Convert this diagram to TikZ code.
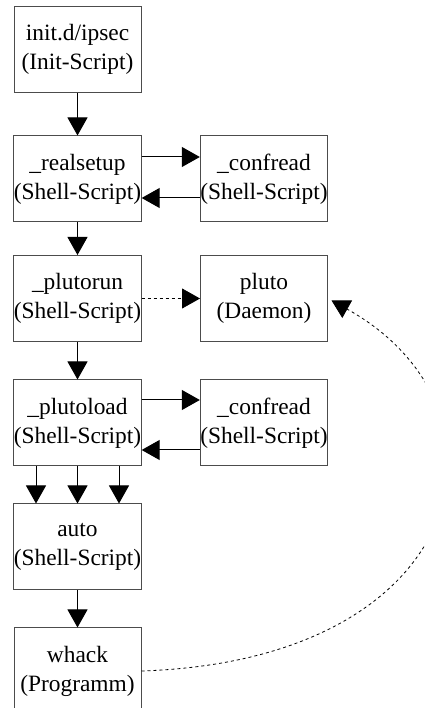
\documentclass[tikz,border=0pt]{standalone}
\usepackage{fontspec}
\setmainfont{Liberation Serif}
\usetikzlibrary{arrows.meta}

\begin{document}
\begin{tikzpicture}[
  x=0.5pt, y=0.5pt,
  scriptbox/.style={draw=black!70, line width=0.5pt, inner sep=0pt,
                    minimum width=63.5pt, minimum height=43pt, align=center,
                    font=\fontsize{11.7}{14.5}\selectfont},
  flow/.style={-{Triangle[length=9pt,width=10pt]}, line width=0.5pt},
  callflow/.style={flow, dash pattern=on 1.5pt off 1.5pt, line width=0.4pt},
]
  \useasboundingbox (0,0) rectangle (424,708);

  % Main chain
  \node[scriptbox] (init)      at (77.5,658.5) {init.d/ipsec\\(Init-Script)};
  \node[scriptbox] (realsetup) at (77.5,529)   {\_realsetup\\(Shell-Script)};
  \node[scriptbox] (plutorun)  at (77.5,409.5) {\_plutorun\\(Shell-Script)};
  \node[scriptbox] (plutoload) at (77.5,285)   {\_plutoload\\(Shell-Script)};
  \node[scriptbox] (auto)      at (77.5,161)   {auto\\(Shell-Script)};
  \node[scriptbox] (whack)     at (77.5,37)    {whack\\(Programm)};

  % Right column
  \node[scriptbox] (confreadA) at (264,529)   {\_confread\\(Shell-Script)};
  \node[scriptbox] (pluto)     at (264,409.5) {pluto\\(Daemon)};
  \node[scriptbox] (confreadB) at (264,285)   {\_confread\\(Shell-Script)};

  % Arrows
  \draw[flow] (init) -- (realsetup);
  \draw[flow] (realsetup) -- (plutorun);
  \draw[flow] (plutorun) -- (plutoload);
  \draw[flow] (auto) -- (whack);
  \foreach \dx in {-20.75pt, 0pt, 20.75pt}
    \draw[flow] ([xshift=\dx]plutoload.south) -- ([xshift=\dx]auto.north);

  \draw[flow] ([yshift=11pt]realsetup.east) -- ([yshift=11pt]confreadA.west);
  \draw[flow] ([yshift=-9.5pt]confreadA.west) -- ([yshift=-9.5pt]realsetup.east);
  \draw[flow] ([yshift=11.5pt]plutoload.east) -- ([yshift=11.5pt]confreadB.west);
  \draw[flow] ([yshift=-13.5pt]confreadB.west) -- ([yshift=-13.5pt]plutoload.east);

  \draw[callflow] (plutorun) -- (pluto);
  \draw[callflow, shorten >=2pt] (whack.east) .. controls (475,48) and (525,300) .. (pluto.east);
\end{tikzpicture}
\end{document}
